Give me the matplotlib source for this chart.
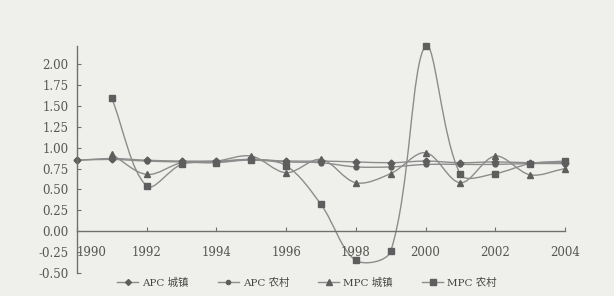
import numpy as np
import matplotlib
matplotlib.use('Agg')
import matplotlib.pyplot as plt
from matplotlib.path import Path
from matplotlib.patches import PathPatch
from matplotlib.lines import Line2D
from matplotlib.transforms import ScaledTranslation

plt.rcParams['font.family'] = ['DejaVu Serif', 'Noto Sans CJK SC']

years = [1990, 1991, 1992, 1993, 1994, 1995, 1996, 1997, 1998, 1999, 2000, 2001, 2002, 2003, 2004]
apc_town = [0.85, 0.87, 0.85, 0.84, 0.84, 0.86, 0.84, 0.84, 0.83, 0.82, 0.84, 0.82, 0.83, 0.82, 0.82]
apc_rural = [0.85, 0.86, 0.84, 0.83, 0.83, 0.86, 0.83, 0.82, 0.77, 0.77, 0.80, 0.80, 0.80, 0.81, 0.81]
mpc_town = [np.nan, 0.92, 0.68, 0.82, 0.84, 0.90, 0.70, 0.86, 0.58, 0.69, 0.94, 0.58, 0.90, 0.675, 0.75]
mpc_rural = [np.nan, 1.59, 0.54, 0.80, 0.82, 0.85, 0.785, 0.32, -0.35, -0.24, 2.22, 0.68, 0.69, 0.81, 0.84]
labels = ['APC 城镇', 'APC 农村', 'MPC 城镇', 'MPC 农村']
markers = ['D', 'o', '^', 's']
msizes = [3.5, 3.5, 4.5, 4.5]

bg = '#efefeb'
line_c = '#8c8c8c'
mark_c = '#5e5e5e'

# rough pixel size of one year / one unit, used to weight the smoothing like a spreadsheet does
PX_X, PX_Y = 34.8, 84.0


def smooth_path(x, y):
    pts = np.column_stack([x, y])
    scr = pts * [PX_X, PX_Y]
    n = len(pts)
    d = [np.hypot(*(scr[i + 1] - scr[i])) for i in range(n - 1)]
    verts = [pts[0]]
    codes = [Path.MOVETO]
    for i in range(n - 1):
        p1, p2 = pts[i], pts[i + 1]
        if i > 0:
            w = d[i] / (d[i - 1] + d[i])
            c1 = p1 + (p2 - pts[i - 1]) * w / 3.0
        else:
            c1 = p1 + (p2 - p1) / 3.0
        if i + 2 < n:
            w = d[i] / (d[i] + d[i + 1])
            c2 = p2 - (pts[i + 2] - p1) * w / 3.0
        else:
            c2 = p2 - (p2 - p1) / 3.0
        verts += [c1, c2, p2]
        codes += [Path.CURVE4] * 3
    return Path(verts, codes)


fig = plt.figure(figsize=(6.14, 2.96), dpi=100, facecolor=bg)
ax = fig.add_axes([0.1254, 0.078, 0.7948, 0.767])
ax.set_facecolor(bg)

for vals, lab, mk, ms in zip([apc_town, apc_rural, mpc_town, mpc_rural], labels, markers, msizes):
    x = np.array(years, dtype=float)
    y = np.array(vals, dtype=float)
    ok = ~np.isnan(y)
    x, y = x[ok], y[ok]
    ax.add_patch(PathPatch(smooth_path(x, y), fill=False, edgecolor=line_c, lw=1.0, clip_on=False))
    ax.plot(x, y, linestyle='none', marker=mk, ms=ms, color=mark_c, clip_on=False)

ax.set_xlim(1990, 2004)
ax.set_ylim(-0.5, 2.22)
ax.set_yticks(np.arange(-0.5, 2.01, 0.25))
ax.set_yticklabels(['%.2f' % v for v in np.arange(-0.5, 2.01, 0.25)])
ax.set_xticks(range(1990, 2005, 2))

ax.spines['top'].set_visible(False)
ax.spines['right'].set_visible(False)
ax.spines['bottom'].set_position(('data', 0))
for s in ['left', 'bottom']:
    ax.spines[s].set_color('#707070')
    ax.spines[s].set_linewidth(1.0)
ax.tick_params(axis='y', direction='in', length=3, color='#707070', labelsize=8.5, labelcolor='#555555', pad=6)
ax.tick_params(axis='x', direction='in', length=3, color='#707070', labelsize=8.5, labelcolor='#555555', pad=11)

# first year label sits just right of the y axis
first = ax.xaxis.get_major_ticks()[0].label1
first.set_transform(first.get_transform() + ScaledTranslation(15 / 100, 0, fig.dpi_scale_trans))

handles = [Line2D([0], [0], color=line_c, lw=1.0, marker=mk, ms=ms - 0.5, markerfacecolor=mark_c,
                  markeredgecolor=mark_c) for mk, ms in zip(markers, msizes)]
fig.legend(handles, labels, loc='center', bbox_to_anchor=(0.5, 0.045), ncol=4, frameon=False,
           fontsize=7.5, handlelength=2.0, columnspacing=2.8, handletextpad=0.4, labelcolor='#444444')

fig.savefig('out.png', dpi=100, facecolor=bg)
